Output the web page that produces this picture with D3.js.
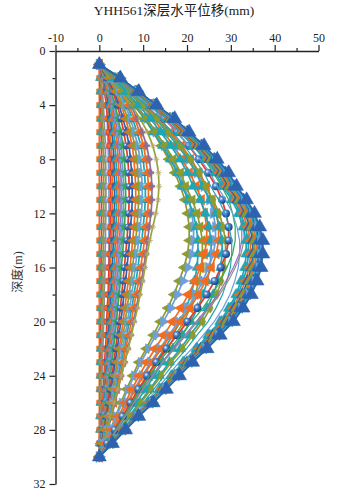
<!DOCTYPE html>
<html><head><meta charset="utf-8">
<script src="https://cdn.jsdelivr.net/npm/d3@7"></script>
<style>body{margin:0;background:#fff}svg{display:block}</style>
</head><body><svg id="c" width="349" height="490"></svg>
<script>
// ---------------- data ----------------
const title = "YHH561深层水平位移(mm)";
const yLabel = "深度(m)";
const depth = [1,2,3,4,5,6,7,8,9,10,11,12,13,14,15,16,17,18,19,20,21,22,23,24,25,26,27,28,29,30];
const xTicks = [-10,0,10,20,30,40,50];
const xMinor = [-5,5,15,25,35,45];
const yTicks = [0,4,8,12,16,20,24,28,32];
const yMinor = [2,6,10,14,18,22,26,30];

// inner group (small readings)
const i13 = [0,0,0,0,0,0,0,0,0,0,0,0,0,0,0,0,0,0,0,0,0,0,0,0,0,0,0,0,0,0];
const i12 = [0,0.1,0.2,0.3,0.4,0.4,0.5,0.5,0.5,0.5,0.5,0.5,0.5,0.5,0.4,0.4,0.4,0.4,0.4,0.3,0.3,0.3,0.2,0.2,0.2,0.2,0.1,0.1,0,0];
const i11 = [0,0.3,0.5,0.6,0.7,0.8,0.9,1.0,1.0,1.0,1.0,1.0,1.0,0.9,0.9,0.8,0.8,0.8,0.7,0.7,0.6,0.5,0.5,0.4,0.4,0.3,0.2,0.2,0.1,0];
const i10 = [0,0.4,0.7,0.9,1.1,1.2,1.4,1.4,1.5,1.5,1.5,1.5,1.4,1.4,1.3,1.3,1.2,1.1,1.1,1.0,0.9,0.8,0.7,0.6,0.5,0.5,0.3,0.2,0.1,0];
const i9  = [0,0.9,1.3,1.6,1.8,1.9,2.0,2.1,2.1,2.2,2.2,2.2,2.2,2.2,2.2,2.2,2.2,2.2,2.1,2.1,2.0,2.0,1.9,1.8,1.6,1.4,1.1,0.8,0.4,0];
const j26 = [0,0.7,1.2,1.6,1.9,2.1,2.3,2.5,2.5,2.6,2.6,2.5,2.5,2.4,2.3,2.2,2.1,2.0,1.8,1.7,1.6,1.4,1.2,1.1,0.9,0.8,0.6,0.4,0.2,0];
const i8  = [0,0.8,1.4,1.8,2.2,2.5,2.7,2.9,2.9,3.0,3.0,2.9,2.9,2.8,2.6,2.5,2.4,2.3,2.1,2.0,1.8,1.6,1.4,1.3,1.1,0.9,0.7,0.5,0.2,0];
const j35 = [0,0.9,1.6,2.1,2.5,2.9,3.2,3.3,3.4,3.5,3.5,3.4,3.3,3.2,3.1,2.9,2.8,2.6,2.5,2.3,2.1,1.9,1.7,1.5,1.3,1.1,0.8,0.6,0.3,0];
const i7  = [0,1.0,1.8,2.4,2.9,3.3,3.6,3.8,3.9,4.0,4.0,3.9,3.8,3.7,3.5,3.4,3.2,3.0,2.8,2.6,2.4,2.2,1.9,1.7,1.4,1.2,0.9,0.6,0.3,0];
const j45 = [0,1.1,2.0,2.7,3.2,3.7,4.1,4.3,4.4,4.5,4.5,4.4,4.3,4.1,4.0,3.8,3.6,3.4,3.2,2.9,2.7,2.4,2.2,1.9,1.6,1.4,1.0,0.7,0.4,0];
const i6  = [0,1.3,2.3,3.0,3.6,4.1,4.5,4.8,4.9,5.0,5.0,4.9,4.8,4.6,4.4,4.2,4.0,3.8,3.5,3.3,3.0,2.7,2.4,2.1,1.8,1.5,1.2,0.8,0.4,0];
const j55 = [0,1.4,2.5,3.3,4.0,4.5,5.0,5.2,5.4,5.5,5.5,5.4,5.2,5.1,4.8,4.6,4.4,4.1,3.9,3.6,3.3,3.0,2.6,2.3,2.0,1.7,1.3,0.9,0.4,0];
const i5  = [0,1.5,2.7,3.6,4.3,4.9,5.4,5.7,5.9,6.0,6.0,5.9,5.7,5.5,5.3,5.0,4.8,4.5,4.2,3.9,3.6,3.2,2.9,2.5,2.2,1.8,1.4,1.0,0.5,0];
const j68 = [0,1.7,3.1,4.1,4.9,5.6,6.1,6.5,6.7,6.8,6.8,6.7,6.5,6.3,6.0,5.7,5.4,5.1,4.8,4.4,4.1,3.7,3.3,2.9,2.4,2.0,1.6,1.1,0.5,0];
const i4  = [0,1.9,3.4,4.5,5.4,6.2,6.8,7.1,7.4,7.5,7.5,7.4,7.1,6.9,6.6,6.3,6.0,5.6,5.3,4.9,4.5,4.1,3.6,3.2,2.7,2.3,1.7,1.2,0.6,0];
const j83 = [0,2.1,3.7,5.0,6.0,6.8,7.5,7.9,8.1,8.3,8.3,8.1,7.9,7.6,7.3,7.0,6.6,6.2,5.8,5.4,5.0,4.5,4.0,3.5,3.0,2.5,1.9,1.3,0.7,0];
const i3  = [0,2.3,4.1,5.4,6.5,7.4,8.1,8.6,8.8,9.0,9.0,8.8,8.6,8.3,7.9,7.6,7.2,6.8,6.3,5.9,5.4,4.9,4.3,3.8,3.2,2.7,2.1,1.4,0.7,0];
const j98 = [0,2.5,4.4,5.9,7.1,8.0,8.8,9.3,9.6,9.8,9.8,9.6,9.3,9.0,8.6,8.2,7.8,7.4,6.9,6.4,5.9,5.3,4.7,4.1,3.5,2.9,2.3,1.6,0.8,0];
const i2  = [0,2.6,4.7,6.3,7.6,8.6,9.5,10.0,10.3,10.5,10.5,10.3,10.0,9.7,9.2,8.8,8.4,7.9,7.4,6.8,6.3,5.7,5.0,4.4,3.8,3.2,2.4,1.7,0.8,0];
const j112= [0,2.8,5.0,6.7,8.1,9.2,10.1,10.6,11.0,11.2,11.2,11.0,10.6,10.3,9.9,9.4,9.0,8.4,7.8,7.3,6.7,6.0,5.4,4.7,4.0,3.4,2.6,1.8,0.9,0];
const i1  = [0,3.0,5.4,7.2,8.6,9.8,10.8,11.4,11.8,12.0,12.0,11.8,11.4,11.0,10.6,10.1,9.6,9.0,8.4,7.8,7.2,6.5,5.8,5.0,4.3,3.6,2.8,1.9,1.0,0];
const ast = [0,2.5,5.0,7.3,9.3,11.0,12.2,13.0,13.5,13.6,13.4,12.9,12.2,11.5,10.9,10.4,9.9,9.3,8.7,8.0,7.3,6.6,5.8,5.0,4.2,3.4,2.6,1.8,1.0,0];
// outer group (large readings)
const o15 = [0,2.9,5.5,8.0,10.3,12.3,14.1,15.8,17.2,18.5,19.5,20.1,20.5,20.5,20.1,19.3,18.2,17.0,15.6,13.9,12.3,10.7,9.0,7.6,6.2,4.9,3.7,2.5,1.2,0];
const p215= [0,3.0,5.8,8.4,10.8,12.9,14.8,16.6,18.1,19.4,20.4,21.1,21.5,21.5,21.1,20.2,19.1,17.8,16.3,14.6,12.9,11.2,9.5,8.0,6.5,5.2,3.9,2.6,1.3,0];
const o14 = [0,2.9,5.4,7.9,10.4,12.4,14.4,16.2,17.8,18.9,20.3,21.4,22.1,22.5,22.5,22.3,21.7,20.9,19.8,18.5,16.7,14.9,12.8,11.0,9.2,7.4,5.4,3.6,1.8,0];
const p235= [0,3.1,5.6,8.2,10.8,12.9,15.0,16.9,18.6,19.7,21.2,22.3,23.0,23.5,23.5,23.3,22.7,21.9,20.7,19.3,17.4,15.5,13.4,11.5,9.6,7.8,5.6,3.8,1.9,0];
const o13 = [0,3.4,6.6,9.6,12.3,14.7,16.9,18.9,20.6,22.1,23.3,24.0,24.5,24.5,24.0,23.0,21.8,20.3,18.6,16.7,14.7,12.7,10.8,9.1,7.4,5.9,4.4,2.9,1.5,0];
const p255= [0,3.3,6.1,8.9,11.7,14.0,16.3,18.4,20.1,21.4,23.0,24.2,25.0,25.5,25.5,25.2,24.6,23.7,22.4,20.9,18.9,16.8,14.5,12.5,10.5,8.4,6.1,4.1,2.0,0];
const o12 = [0,3.7,7.2,10.3,13.3,15.9,18.3,20.4,22.3,23.9,25.2,26.0,26.5,26.5,26.0,24.9,23.6,22.0,20.1,18.0,15.9,13.8,11.7,9.8,8.0,6.4,4.8,3.2,1.6,0];
const p272= [0,3.8,7.3,10.6,13.6,16.3,18.8,20.9,22.8,24.5,25.8,26.7,27.2,27.2,26.7,25.6,24.2,22.6,20.7,18.5,16.3,14.1,12.0,10.1,8.2,6.5,4.9,3.3,1.6,0];
const o11 = [0,3.6,6.7,9.8,12.9,15.4,17.9,20.2,22.1,23.5,25.2,26.6,27.4,28.0,28.0,27.7,27.0,26.0,24.6,23.0,20.7,18.5,16.0,13.7,11.5,9.2,6.7,4.5,2.2,0];
const p288= [0,3.7,6.9,10.1,13.2,15.8,18.4,20.7,22.8,24.2,25.9,27.4,28.2,28.8,28.8,28.5,27.8,26.8,25.3,23.6,21.3,19.0,16.4,14.1,11.8,9.5,6.9,4.6,2.3,0];
const o10 = [0,4.1,8.0,11.5,14.8,17.7,20.4,22.7,24.8,26.6,28.0,28.9,29.5,29.5,28.9,27.7,26.3,24.5,22.4,20.1,17.7,15.3,13.0,10.9,8.9,7.1,5.3,3.5,1.8,0];
const p302= [0,3.9,7.2,10.6,13.9,16.6,19.3,21.7,23.9,25.4,27.2,28.7,29.6,30.2,30.2,29.9,29.1,28.1,26.6,24.8,22.3,19.9,17.2,14.8,12.4,10.0,7.2,4.8,2.4,0];
const o9  = [0,4.3,8.4,12.1,15.5,18.6,21.4,23.9,26.0,27.9,29.5,30.4,31.0,31.0,30.4,29.1,27.6,25.7,23.6,21.1,18.6,16.1,13.6,11.5,9.3,7.4,5.6,3.7,1.9,0];
const p325= [0,4.6,8.8,12.7,16.3,19.5,22.4,25.0,27.3,29.3,30.9,31.9,32.5,32.5,31.9,30.6,28.9,27.0,24.7,22.1,19.5,16.9,14.3,12.0,9.8,7.8,5.9,3.9,2.0,0];
const o8  = [0,4.2,7.7,11.2,14.7,17.6,20.5,23.0,25.3,26.9,28.8,30.4,31.4,32.0,32.0,31.7,30.9,29.8,28.2,26.2,23.7,21.1,18.2,15.7,13.1,10.6,7.7,5.1,2.6,0];
const o7  = [0,4.6,8.9,12.9,16.5,19.8,22.8,25.4,27.7,29.7,31.4,32.3,33.0,33.0,32.3,31.0,29.4,27.4,25.1,22.4,19.8,17.2,14.5,12.2,9.9,7.9,5.9,4.0,2.0,0];
const p335= [0,4.4,8.0,11.7,15.4,18.4,21.4,24.1,26.5,28.1,30.2,31.8,32.8,33.5,33.5,33.2,32.3,31.2,29.5,27.5,24.8,22.1,19.1,16.4,13.7,11.1,8.0,5.4,2.7,0];
const o6  = [0,4.4,8.2,11.9,15.6,18.7,21.8,24.5,26.9,28.6,30.6,32.3,33.3,34.0,34.0,33.7,32.8,31.6,29.9,27.9,25.2,22.4,19.4,16.7,13.9,11.2,8.2,5.4,2.7,0];
const p345= [0,4.5,8.3,12.1,15.9,19.0,22.1,24.8,27.3,29.0,31.1,32.8,33.8,34.5,34.5,34.2,33.3,32.1,30.4,28.3,25.5,22.8,19.7,16.9,14.1,11.4,8.3,5.5,2.8,0];
const o5  = [0,4.6,8.4,12.3,16.1,19.3,22.4,25.2,27.7,29.4,31.5,33.3,34.3,35.0,35.0,34.7,33.8,32.6,30.8,28.7,25.9,23.1,20.0,17.2,14.4,11.6,8.4,5.6,2.8,0];
const p354= [0,4.6,8.5,12.4,16.3,19.5,22.7,25.5,28.0,29.7,31.9,33.6,34.7,35.4,35.4,35.0,34.2,32.9,31.2,29.0,26.2,23.4,20.2,17.3,14.5,11.7,8.5,5.7,2.8,0];
const o4  = [0,4.7,8.6,12.5,16.5,19.7,22.9,25.8,28.3,30.1,32.2,34.0,35.1,35.8,35.8,35.4,34.5,33.3,31.5,29.4,26.5,23.6,20.4,17.5,14.7,11.8,8.6,5.7,2.9,0];
const p362= [0,4.7,8.7,12.7,16.7,19.9,23.2,26.1,28.6,30.4,32.6,34.4,35.5,36.2,36.2,35.8,34.9,33.7,31.9,29.7,26.8,23.9,20.6,17.7,14.8,11.9,8.7,5.8,2.9,0];
const o3  = [0,4.7,8.8,12.8,16.8,20.1,23.4,26.3,28.8,30.7,32.9,34.7,35.8,36.5,36.5,36.1,35.2,33.9,32.1,29.9,27.0,24.1,20.8,17.9,15.0,12.0,8.8,5.8,2.9,0];
const p368= [0,4.8,8.8,12.9,16.9,20.2,23.6,26.5,29.1,30.9,33.1,35.0,36.1,36.8,36.8,36.4,35.5,34.2,32.4,30.2,27.2,24.3,21.0,18.0,15.1,12.1,8.8,5.9,2.9,0];
const o2  = [0,4.8,8.9,13.0,17.0,20.4,23.7,26.6,29.2,31.1,33.3,35.2,36.3,37.0,37.0,36.6,35.7,34.4,32.6,30.3,27.4,24.4,21.1,18.1,15.2,12.2,8.9,5.9,3.0,0];
const o1  = [0,4.8,9.0,13.1,17.2,20.5,23.9,26.9,29.5,31.3,33.6,35.4,36.6,37.3,37.3,36.9,36.0,34.7,32.8,30.6,27.6,24.6,21.3,18.3,15.3,12.3,9.0,6.0,3.0,0];

const seriesValues = [i13,i12,i11,i10,i9,j26,i8,j35,i7,j45,i6,j55,i5,j68,i4,j83,i3,j98,i2,j112,i1,ast,
  o15,p215,o14,p235,o13,p255,o12,p272,o11,p288,o10,p302,o9,p325,o8,o7,p335,o6,p345,o5,p354,o4,p362,o3,p368,o2,o1];
// [line colour, marker shape, marker colour, marker size]
const seriesStyles = [
 ["#f26b1f","sq","#f26b1f",6],
 ["#e33a2d","tri","#20a5b5",6.5],
 ["#8d9b2f","dia","#8d9b2f",6.5],
 ["#8f8f8f","sq","#8f8f8f",6],
 ["#6e9fd9","ball","l",7],
 ["#e33a2d","circ","#e33a2d",6],
 ["#f26b1f","triL","#f26b1f",7],
 ["#2d62ae","sq","#2d62ae",6],
 ["#20a5b5","tri","#20a5b5",7],
 ["#f26b1f","tri","#f26b1f",6.5],
 ["#9b6bb5","circ","#9b6bb5",6],
 ["#6e9fd9","triR","#6e9fd9",7],
 ["#3aa655","star","#3aa655",7],
 ["#e33a2d","ball","b",6.5],
 ["#2d62ae","tri","#2d62ae",7],
 ["#f26b1f","triL","#f26b1f",7],
 ["#8d9b2f","triL","#8d9b2f",7],
 ["#6e9fd9","triR","#6e9fd9",7],
 ["#20a5b5","ball","t",7],
 ["#f26b1f","triL","#f26b1f",7],
 ["#8a6f96","cross","#8a6f96",5.5],
 ["#9aa33a","ast","#b8a86a",6],
 ["#8d9b2f","triL","#8d9b2f",7.5],
 ["#6e9fd9","triR","#6e9fd9",7.5],
 ["#20a5b5","tri","#20a5b5",7.5],
 ["#8d9b2f","triL","#8d9b2f",7.5],
 ["#f26b1f","triL","#f26b1f",8],
 ["#20a5b5","tri","#20a5b5",7.5],
 ["#6e9fd9","triR","#6e9fd9",8],
 ["#f26b1f","triL","#f26b1f",7.5],
 ["#20a5b5","tri","#20a5b5",7.5],
 ["#8d9b2f","dia","#8d9b2f",7],
 ["#e33a2d","ball","b",8],
 ["#20a5b5","none","",0],
 ["#3aa655","none","",0],
 ["#9b6bb5","none","",0],
 ["#6e9fd9","none","",0],
 ["#8f8f8f","none","",0],
 ["#20a5b5","tri","#20a5b5",8],
 ["#20a5b5","tri","#20a5b5",8],
 ["#f26b1f","triL","#f26b1f",7.5],
 ["#2d62ae","tri","#2d62ae",8.5],
 ["#8d9b2f","tri","#8d9b2f",8],
 ["#f26b1f","sq","#f26b1f",6.5],
 ["#20a5b5","tri","#20a5b5",8.5],
 ["#2d62ae","tri","#2d62ae",9],
 ["#6e9fd9","triR","#6e9fd9",8],
 ["#20a5b5","dia","#20a5b5",7.5],
 ["#2d62ae","tri","#2d62ae",10.5]
];

// ---------------- layout ----------------
const svg = d3.select("#c");
const X0 = 55.5, X1 = 318.5, Y0 = 51, Y1 = 484;
const x = d3.scaleLinear().domain([-10,50]).range([X0,X1]);
const y = d3.scaleLinear().domain([0,32]).range([Y0,Y1]);
const serif = "'Liberation Serif','Times New Roman','Noto Sans CJK SC',serif";

const defs = svg.append("defs");
function grad(id, c1, c2){
  const g = defs.append("radialGradient").attr("id",id).attr("cx","38%").attr("cy","35%").attr("r","65%");
  g.append("stop").attr("offset","0%").attr("stop-color","#ffffff");
  g.append("stop").attr("offset","35%").attr("stop-color",c1);
  g.append("stop").attr("offset","100%").attr("stop-color",c2);
}
grad("gb","#4f86cf","#153f86");
grad("gl","#a9c4e6","#5f86b8");
grad("gt","#5ccbd6","#12808c");

// title
svg.append("text").attr("x",174).attr("y",15).attr("text-anchor","middle")
  .attr("font-family",serif).attr("font-size",13.5).attr("fill","#222").text(title);
// y label
svg.append("text").attr("transform","translate(22,272) rotate(-90)").attr("text-anchor","middle")
  .attr("font-family",serif).attr("font-size",12).attr("fill","#333").text(yLabel);

// series
const plot = svg.append("g");
const line = d3.line().x(d=>x(d[0])).y(d=>y(d[1]));
function markerPath(shape, s){
  if(shape==="tri"||shape==="triL"||shape==="triR") return d3.symbol(d3.symbolTriangle, s*s*0.75)();
  if(shape==="sq") return d3.symbol(d3.symbolSquare, s*s*0.8)();
  if(shape==="dia") return d3.symbol(d3.symbolDiamond, s*s*0.6)();
  if(shape==="star") return d3.symbol(d3.symbolStar, s*s*0.6)();
  if(shape==="cross") return d3.symbol(d3.symbolCross, s*s*0.6)();
  if(shape==="circ") return d3.symbol(d3.symbolCircle, s*s*0.75)();
  return null;
}
seriesValues.forEach((vals,k)=>{
  const [lc, shape, mc, ms] = seriesStyles[k];
  const pts = vals.map((v,i)=>[v, depth[i]]);
  plot.append("path").attr("d",line(pts)).attr("fill","none")
    .attr("stroke",lc).attr("stroke-width", shape==="none"?1.2:1.7);
  if(shape==="none") return;
  const g = plot.append("g");
  pts.forEach(p=>{
    const tx = x(p[0]), ty = y(p[1]);
    if(shape==="ball"){
      g.append("circle").attr("cx",tx).attr("cy",ty).attr("r",ms/2)
        .attr("fill", mc==="b"?"url(#gb)":mc==="l"?"url(#gl)":"url(#gt)");
    } else if(shape==="ast"){
      const r = ms/2;
      const a = g.append("g").attr("transform",`translate(${tx},${ty})`)
        .attr("stroke",mc).attr("stroke-width",0.9);
      [0,45,90,135].forEach(an=>{
        const c=Math.cos(an*Math.PI/180)*r, s=Math.sin(an*Math.PI/180)*r;
        a.append("line").attr("x1",-c).attr("y1",-s).attr("x2",c).attr("y2",s);
      });
    } else {
      const rot = shape==="triL"?-90:shape==="triR"?90:0;
      g.append("path").attr("d",markerPath(shape,ms))
        .attr("transform",`translate(${tx},${ty}) rotate(${rot})`)
        .attr("fill",mc).attr("stroke",mc).attr("stroke-width",0.6);
    }
  });
});

// axes
const fmt = d=>String(d);
const ax = svg.append("g").attr("transform",`translate(0,${Y0})`)
  .call(d3.axisTop(x).tickValues(xTicks).tickSize(6).tickSizeOuter(0).tickPadding(3).tickFormat(fmt));
const axm = svg.append("g").attr("transform",`translate(0,${Y0})`)
  .call(d3.axisTop(x).tickValues(xMinor).tickSize(3).tickSizeOuter(0).tickFormat(""));
const ay = svg.append("g").attr("transform",`translate(${X0},0)`)
  .call(d3.axisLeft(y).tickValues(yTicks).tickSize(6).tickSizeOuter(0).tickPadding(4).tickFormat(fmt));
const aym = svg.append("g").attr("transform",`translate(${X0},0)`)
  .call(d3.axisLeft(y).tickValues(yMinor).tickSize(3).tickSizeOuter(0).tickFormat(""));
[ax,axm,ay,aym].forEach(a=>{
  a.attr("font-family",serif).attr("font-size",12);
  a.select(".domain").attr("stroke","#222").attr("stroke-width",1.4);
  a.selectAll(".tick line").attr("stroke","#222").attr("stroke-width",1.2);
  a.selectAll(".tick text").attr("font-family",serif).attr("font-size",12).attr("fill","#222");
});
axm.select(".domain").remove(); aym.select(".domain").remove();
</script></body></html>
